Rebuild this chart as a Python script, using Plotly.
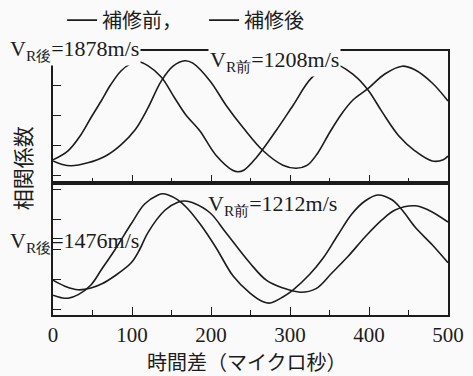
import plotly.graph_objects as go
from plotly.subplots import make_subplots

# ---- data ----
# top panel
top_after_x = [0, 19, 35, 48, 61, 73, 86, 97, 109, 120, 137, 154, 168, 186, 206, 228, 234, 242, 257, 282, 304, 327, 354, 382, 399, 416, 437, 458, 480, 494, 500]
top_after_y = [-0.73, -0.58, -0.32, -0.03, 0.25, 0.52, 0.75, 0.86, 0.90, 0.84, 0.65, 0.30, 0.02, -0.25, -0.65, -0.91, -0.93, -0.90, -0.70, -0.25, 0.18, 0.63, 0.87, 0.67, 0.43, 0.08, -0.32, -0.58, -0.75, -0.73, -0.67]
top_before_x = [0, 12, 23, 44, 66, 86, 104, 120, 137, 152, 167, 177, 199, 219, 241, 266, 291, 308, 322, 335, 350, 365, 380, 399, 420, 442, 458, 480, 500]
top_before_y = [-0.75, -0.81, -0.83, -0.78, -0.67, -0.48, -0.23, 0.13, 0.58, 0.83, 0.92, 0.88, 0.58, 0.18, -0.20, -0.58, -0.82, -0.87, -0.82, -0.62, -0.28, 0.03, 0.27, 0.46, 0.70, 0.83, 0.77, 0.55, 0.25]

# bottom panel
bot_after_x = [0, 10, 19, 32, 48, 62, 78, 99, 116, 133, 139, 146, 158, 170, 186, 206, 228, 249, 266, 275, 291, 304, 325, 342, 360, 378, 395, 411, 429, 442, 458, 480, 500]
bot_after_y = [-0.77, -0.81, -0.82, -0.76, -0.60, -0.33, -0.02, 0.42, 0.75, 0.90, 0.92, 0.90, 0.82, 0.68, 0.42, 0.03, -0.45, -0.73, -0.88, -0.90, -0.80, -0.68, -0.42, -0.15, 0.22, 0.58, 0.80, 0.90, 0.82, 0.65, 0.37, 0.07, -0.23]
bot_before_x = [0, 15, 32, 48, 62, 78, 99, 110, 120, 142, 158, 167, 177, 199, 219, 249, 270, 291, 313, 333, 353, 373, 395, 416, 433, 458, 475, 500]
bot_before_y = [-0.52, -0.62, -0.68, -0.65, -0.58, -0.45, -0.23, 0.0, 0.27, 0.65, 0.78, 0.80, 0.77, 0.60, 0.27, -0.23, -0.52, -0.65, -0.72, -0.66, -0.40, -0.13, 0.20, 0.48, 0.65, 0.72, 0.65, 0.45]

legend_names = ["補修前，", "補修後"]
x_tickvals = [0, 100, 200, 300, 400, 500]
x_ticktext = ["0", "100", "200", "300", "400", "500"]
labels = [
    ("V<sub>R後</sub>=1878m/s", -0.115, 1.004, True),
    ("V<sub>R前</sub>=1208m/s", 0.392, 0.962, True),
    ("V<sub>R前</sub>=1212m/s", 0.387, 0.4167, False),
    ("V<sub>R後</sub>=1476m/s", -0.115, 0.2765, False),
]

BG = "#fafafa"
INK = "#1c1c1c"
SERIF = "Liberation Serif"
CJK = "Noto Sans CJK JP"

fig = make_subplots(rows=2, cols=1, shared_xaxes=True, vertical_spacing=0)

line = dict(color=INK, width=1.6, shape="spline", smoothing=1.0)
fig.add_trace(go.Scatter(x=top_before_x, y=top_before_y, mode="lines", line=line,
                         name=legend_names[0], showlegend=True), row=1, col=1)
fig.add_trace(go.Scatter(x=top_after_x, y=top_after_y, mode="lines", line=line,
                         name=legend_names[1], showlegend=True), row=1, col=1)
fig.add_trace(go.Scatter(x=bot_before_x, y=bot_before_y, mode="lines", line=line,
                         name=legend_names[0], showlegend=False), row=2, col=1)
fig.add_trace(go.Scatter(x=bot_after_x, y=bot_after_y, mode="lines", line=line,
                         name=legend_names[1], showlegend=False), row=2, col=1)

xcommon = dict(range=[0, 500], showline=True, mirror=True, linecolor=INK, linewidth=1.5,
               ticks="inside", ticklen=8, tickcolor=INK, tickwidth=1.3,
               tickvals=x_tickvals, ticktext=x_ticktext,
               minor=dict(ticks="inside", ticklen=5, dtick=50, tick0=0, tickcolor=INK, showgrid=False),
               showgrid=False, zeroline=False)
fig.update_xaxes(**xcommon)
fig.update_xaxes(showticklabels=False, row=1, col=1)
fig.update_xaxes(showticklabels=True, tickfont=dict(family=SERIF, size=21, color=INK), row=2, col=1)

ycommon = dict(showline=True, mirror=True, linecolor=INK, linewidth=1.5,
               ticks="inside", ticklen=8, tickcolor=INK, tickwidth=1.3,
               dtick=0.5, tick0=0, showticklabels=False, showgrid=False, zeroline=False)
fig.update_yaxes(**ycommon)
fig.update_yaxes(range=[-1.117, 1.083], row=1, col=1)
fig.update_yaxes(range=[-1.1, 1.1], row=2, col=1)

for text, ax, ay, bg in labels:
    fig.add_annotation(text=text, xref="paper", yref="paper", x=ax, y=ay,
                       xanchor="left", yanchor="middle", showarrow=False,
                       font=dict(family=SERIF, size=22, color=INK),
                       bgcolor=BG if bg else "rgba(0,0,0,0)", borderpad=1)

fig.add_annotation(text="相関係数", xref="paper", yref="paper", x=-0.078, y=0.557,
                   textangle=-90, showarrow=False, xanchor="center", yanchor="middle",
                   font=dict(family=CJK, size=21, color=INK))
fig.add_annotation(text="時間差（マイクロ秒）", xref="paper", yref="paper", x=0.491, y=-0.178,
                   showarrow=False, xanchor="center", yanchor="middle",
                   font=dict(family=CJK, size=20, color=INK))

fig.update_layout(
    width=473, height=376,
    margin=dict(l=53, r=25, t=51, b=61, autoexpand=False),
    paper_bgcolor=BG, plot_bgcolor=BG,
    showlegend=True,
    legend=dict(orientation="h", x=0.023, y=1.117, xanchor="left", yanchor="middle",
                font=dict(family=CJK, size=20, color=INK), bgcolor="rgba(0,0,0,0)",
                itemwidth=30, tracegroupgap=0, entrywidth=97),
)

fig.write_html("out.html", config={"displayModeBar": False},
               post_script="document.body.style.margin='0';document.body.style.overflow='hidden';")
